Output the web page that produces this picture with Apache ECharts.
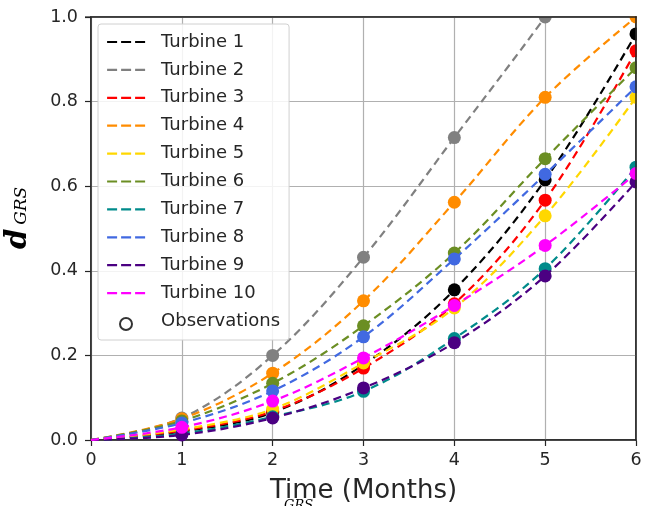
<!DOCTYPE html>
<html>
<head>
<meta charset="utf-8">
<script src="https://cdn.jsdelivr.net/npm/echarts@6/dist/echarts.min.js"></script>
<style>
  html, body { margin: 0; padding: 0; background: #fff; overflow: hidden; }
  #chart { width: 649px; height: 506px; }
</style>
</head>
<body>
<div id="chart"></div>
<script>
// Months at which the damage index was observed
const months = [0, 1, 2, 3, 4, 5, 6];

// Turbine names and their line colours
const turbineNames = ['Turbine 1', 'Turbine 2', 'Turbine 3', 'Turbine 4', 'Turbine 5',
                      'Turbine 6', 'Turbine 7', 'Turbine 8', 'Turbine 9', 'Turbine 10'];
const turbineColors = ['#000000', '#808080', '#ff0000', '#ff8c00', '#ffd700',
                       '#6b8e23', '#008b8b', '#4169e1', '#4b0082', '#ff00ff'];

// d^GRS per month for each turbine (month 0 .. 6)
const turbine1  = [0, 0.020, 0.065, 0.178, 0.355, 0.615, 0.960];
const turbine2  = [0, 0.052, 0.200, 0.432, 0.715, 1.000, 1.300];
const turbine3  = [0, 0.022, 0.068, 0.170, 0.322, 0.567, 0.920];
const turbine4  = [0, 0.050, 0.158, 0.329, 0.562, 0.810, 1.000];
const turbine5  = [0, 0.025, 0.073, 0.182, 0.312, 0.530, 0.810];
const turbine6  = [0, 0.045, 0.134, 0.270, 0.442, 0.665, 0.880];
const turbine7  = [0, 0.015, 0.055, 0.115, 0.240, 0.405, 0.645];
const turbine8  = [0, 0.040, 0.116, 0.244, 0.428, 0.628, 0.835];
const turbine9  = [0, 0.012, 0.052, 0.123, 0.230, 0.388, 0.610];
const turbine10 = [0, 0.030, 0.092, 0.194, 0.318, 0.460, 0.630];

const turbineValues = [turbine1, turbine2, turbine3, turbine4, turbine5,
                       turbine6, turbine7, turbine8, turbine9, turbine10];

// Axis ticks
const xTicks = { min: 0, max: 6, interval: 1 };
const yTicks = { min: 0, max: 1, interval: 0.2 };

const series = [];
turbineValues.forEach((vals, i) => {
  const pts = months.map((m, k) => [m, vals[k]]);
  // fitted trend as a smooth dashed curve
  series.push({
    name: turbineNames[i],
    type: 'line',
    data: pts,
    smooth: 0.35,
    showSymbol: false,
    symbol: 'none',
    clip: true,
    lineStyle: { color: turbineColors[i], width: 2.2, type: [8, 5] },
    itemStyle: { color: turbineColors[i] },
    z: 2 + i * 2
  });
  // observed points (months 1..6)
  series.push({
    name: turbineNames[i] + ' obs',
    type: 'scatter',
    data: pts.slice(1),
    symbolSize: 13,
    clip: true,
    itemStyle: { color: turbineColors[i], opacity: 1 },
    z: 3 + i * 2
  });
});
// legend entry for the observation markers
series.push({
  name: 'Observations',
  type: 'scatter',
  data: [],
  itemStyle: { color: '#ffffff', borderColor: '#000000', borderWidth: 1.5 }
});

const tickFont = { fontFamily: 'DejaVu Sans', fontSize: 17.5, color: '#262626' };
const frame = '#262626';

const chart = echarts.init(document.getElementById('chart'), null, { renderer: 'canvas' });
chart.setOption({
  animation: false,
  backgroundColor: '#ffffff',
  grid: {
    left: 91, right: 13, top: 17, bottom: 66,
    outerBoundsMode: 'none', containLabel: false,
    show: true, borderColor: frame, borderWidth: 1.5
  },
  legend: [{
    orient: 'vertical',
    left: 98,
    top: 24,
    data: turbineNames.map(n => ({ name: n })).concat([{ name: 'Observations', icon: 'none' }]),
    itemWidth: 38,
    itemHeight: 12,
    itemGap: 9.9,
    padding: [9, 9, 10, 8],
    backgroundColor: 'rgba(255,255,255,0.85)',
    borderColor: '#d0d0d0',
    borderWidth: 1,
    borderRadius: 3,
    itemStyle: { opacity: 0 },
    lineStyle: { type: [10, 4], width: 2.2, opacity: 1 },
    textStyle: { fontFamily: 'DejaVu Sans', fontSize: 18, color: '#262626', lineHeight: 18, padding: [0, 0, 0, 11] },
    selectedMode: false,
    z: 20
  }, {
    // open-circle marker for the observations row
    orient: 'vertical',
    left: 119,
    top: 317,
    data: [{ name: 'Observations', icon: 'circle' }],
    itemWidth: 12,
    itemHeight: 12,
    padding: 0,
    formatter: () => '',
    textStyle: { fontSize: 1 },
    selectedMode: false,
    z: 21
  }],
  xAxis: {
    type: 'value',
    min: xTicks.min, max: xTicks.max, interval: xTicks.interval,
    name: 'Time (Months)',
    nameLocation: 'middle',
    nameGap: 38,
    nameTextStyle: { fontFamily: 'DejaVu Sans', fontSize: 26, color: '#262626' },
    axisLine: { show: true, lineStyle: { color: frame, width: 1.5 } },
    axisTick: { show: true, length: 6, lineStyle: { color: frame, width: 1.2 } },
    axisLabel: Object.assign({}, tickFont, { margin: 11 }),
    splitLine: { show: true, lineStyle: { color: '#b0b0b0', width: 1.2 } }
  },
  yAxis: {
    type: 'value',
    min: yTicks.min, max: yTicks.max, interval: yTicks.interval,
    axisLine: { show: true, lineStyle: { color: frame, width: 1.5 } },
    axisTick: { show: true, length: 6, lineStyle: { color: frame, width: 1.2 } },
    axisLabel: Object.assign({}, tickFont, { margin: 13, formatter: v => v.toFixed(1) }),
    splitLine: { show: true, lineStyle: { color: '#b0b0b0', width: 1.2 } }
  },
  graphic: [
    // trim markers that stick out past the top and right edges of the frame
    { type: 'rect', z: 100, shape: { x: 86, y: 0, width: 563, height: 16.3 }, style: { fill: '#ffffff' } },
    { type: 'rect', z: 100, shape: { x: 636.8, y: 0, width: 13, height: 441 }, style: { fill: '#ffffff' } },
    { type: 'line', z: 101, shape: { x1: 636, y1: 16.3, x2: 636, y2: 440.7 }, style: { stroke: frame, lineWidth: 1.5 } },
    { type: 'line', z: 101, shape: { x1: 90.3, y1: 17, x2: 636.7, y2: 17 }, style: { stroke: frame, lineWidth: 1.5 } },
    { type: 'line', z: 101, shape: { x1: 85, y1: 17, x2: 91, y2: 17 }, style: { stroke: frame, lineWidth: 1.2 } },
    // y-axis title d^GRS
    {
      type: 'text', z: 101, x: 33, y: 249, rotation: Math.PI / 2,
      style: {
        text: '{d|d}{g| }{s|GRS}',
        align: 'left', verticalAlign: 'bottom',
        rich: {
          d: { fontFamily: 'DejaVu Serif', fontStyle: 'italic', fontWeight: 'bold', fontSize: 29, fill: '#000', verticalAlign: 'bottom' },
          g: { fontSize: 14, verticalAlign: 'bottom' },
          s: { fontFamily: 'DejaVu Serif', fontStyle: 'italic', fontSize: 17, fill: '#000', verticalAlign: 'bottom', padding: [0, 0, 3, 0] }
        }
      }
    },
    // caption fragment below the frame
    {
      type: 'text', z: 101, x: 284, y: 499,
      style: { text: 'GRS', fontFamily: 'DejaVu Serif', fontStyle: 'italic', fontSize: 13, fill: '#000', align: 'left', verticalAlign: 'top' }
    }
  ],
  series: series
});
</script>
</body>
</html>
